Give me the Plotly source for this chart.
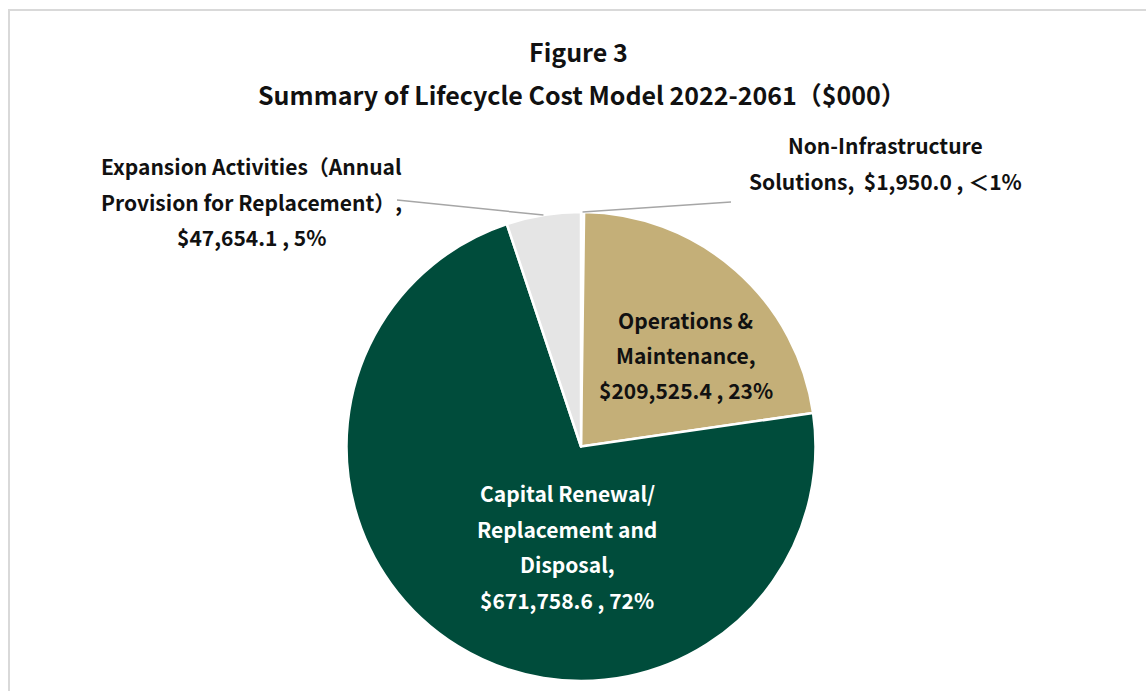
import math
import plotly.graph_objects as go

# Lifecycle cost model components, in $000, in clockwise order from 12 o'clock
categories = [
    "Non-Infrastructure Solutions",
    "Operations & Maintenance",
    "Capital Renewal/Replacement and Disposal",
    "Expansion Activities (Annual Provision for Replacement)",
]
values = [1950.0, 209525.4, 671758.6, 47654.1]
colors = ["#F7F7F7", "#C4AF78", "#004C3B", "#E5E5E5"]

# Label line splits for each slice ({val} and {pct} are filled from values)
label_lines = [
    ["Non-Infrastructure", "Solutions,  {val} , {pct}"],
    ["Operations &", "Maintenance,", "{val} , {pct}"],
    ["Capital Renewal/", "Replacement and", "Disposal,", "{val} , {pct}"],
    ["Expansion Activities（Annual", "Provision for Replacement）,", "{val} , {pct}"],
]

W, H = 1146, 691
FONT = "Noto Sans CJK JP"

# pie geometry in pixels
CX, CY, R = 581.0, 446.5, 234.5


def px(x):
    return x / W


def py(y):
    return 1 - y / H


total = sum(values)


def fmt_val(v):
    return "${:,.1f}".format(v)


def fmt_pct(v):
    p = v / total * 100
    return "＜1%" if p < 1 else "{}%".format(int(p + 0.5))


fig = go.Figure(
    go.Pie(
        labels=categories,
        values=values,
        sort=False,
        direction="clockwise",
        rotation=0,
        textinfo="none",
        hoverinfo="label+value+percent",
        marker=dict(colors=colors, line=dict(color="white", width=2.5)),
        domain=dict(x=[px(CX - R), px(CX + R)], y=[py(CY + R), py(CY - R)]),
        showlegend=False,
    )
)

# mid-angle point on the rim of each slice (clockwise from top)
cum = 0.0
rim = []
for v in values:
    mid = (cum + v / 2) / total * 2 * math.pi
    rim.append((CX + R * math.sin(mid), CY - R * math.cos(mid)))
    cum += v

annotations = []


def add_text(text, x, y, color="#111111", size=21):
    annotations.append(
        dict(
            text=text,
            x=px(x),
            y=py(y),
            xref="paper",
            yref="paper",
            xanchor="center",
            yanchor="middle",
            showarrow=False,
            font=dict(family=FONT, size=size, color=color),
        )
    )


# title
add_text("<b>Figure 3</b>", 579, 51, size=25)
add_text("<b>Summary of Lifecycle Cost Model 2022-2061（$000）</b>", 582, 94, size=25)

# label placement: centre x, first line y, line spacing, colour
placements = [
    (885, 145, 36, "#111111"),
    (686, 320, 35, "#111111"),
    (567, 493, 35.5, "#FFFFFF"),
    (251, 166, 35.5, "#111111"),
]

for i, (lines, (lx, ly, dy, col)) in enumerate(zip(label_lines, placements)):
    for j, ln in enumerate(lines):
        t = ln.format(val=fmt_val(values[i]), pct=fmt_pct(values[i]))
        add_text("<b>" + t + "</b>", lx, ly + j * dy, color=col)

shapes = []
# leader lines from slice rims to the outside labels
leader_ends = {0: (731, 202), 3: (397, 200)}
for i, (ex, ey) in leader_ends.items():
    rx, ry = rim[i]
    shapes.append(
        dict(
            type="line",
            xref="paper",
            yref="paper",
            x0=px(rx),
            y0=py(ry),
            x1=px(ex),
            y1=py(ey),
            line=dict(color="#A6A6A6", width=1.5),
        )
    )

# chart-area border
shapes.append(
    dict(
        type="rect",
        xref="paper",
        yref="paper",
        x0=px(9),
        y0=py(H + 20),
        x1=px(W + 20),
        y1=py(10),
        line=dict(color="#D9D9D9", width=2),
        fillcolor="rgba(0,0,0,0)",
        layer="below",
    )
)

fig.update_layout(
    width=W,
    height=H,
    margin=dict(l=0, r=0, t=0, b=0),
    paper_bgcolor="white",
    plot_bgcolor="white",
    annotations=annotations,
    shapes=shapes,
    font=dict(family=FONT),
)

fig.write_html("out.html", config={"displayModeBar": False})
